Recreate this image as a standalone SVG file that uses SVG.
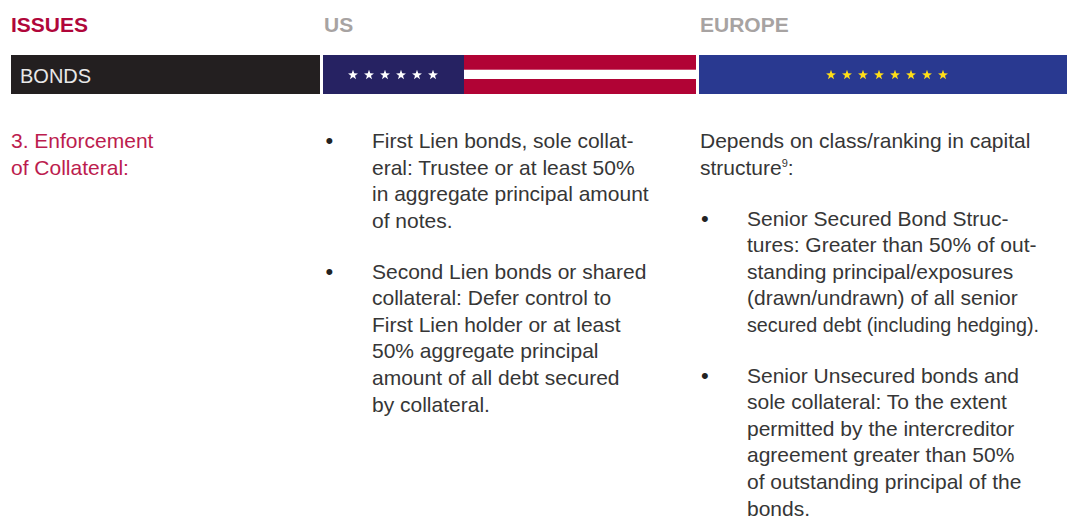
<svg xmlns="http://www.w3.org/2000/svg" xmlns:xlink="http://www.w3.org/1999/xlink" width="1067" height="531" viewBox="0 0 1067 531">
<style>
.hdr{font-family:"Liberation Sans",Arial,sans-serif;font-weight:bold;font-size:21px}
.body{font-family:"Liberation Sans",Arial,sans-serif;font-size:21px;fill:#363636}
.issue{font-family:"Liberation Sans",Arial,sans-serif;font-size:21px;fill:#BC1C4E}
.bul{font-family:"Liberation Sans",Arial,sans-serif;font-size:22px;fill:#222222}
</style>
<defs>
<path id="star" d="M0,-5.2 L1.234,-1.699 L4.945,-1.607 L1.997,0.649 L3.056,4.207 L0,2.1 L-3.056,4.207 L-1.997,0.649 L-4.945,-1.607 L-1.234,-1.699 Z"/>
</defs>
<rect width="1067" height="531" fill="#ffffff"/>

<g id="headers">
<text class="hdr" x="11" y="32" fill="#B0063A">ISSUES</text>
<text class="hdr" x="324" y="32" fill="#A7A3A2">US</text>
<text class="hdr" x="700" y="32" fill="#A7A3A2">EUROPE</text>
</g>

<g id="bonds-bar">
<rect x="11" y="55" width="309" height="39" fill="#231F20"/>
<text x="20" y="83" font-family="'Liberation Sans',Arial,sans-serif" font-size="20" fill="#E8E8E8">BONDS</text>
</g>

<g id="us-flag">
<rect x="323" y="55" width="141" height="39" fill="#262262"/>
<rect x="464" y="55" width="232" height="14.7" fill="#B10335"/>
<rect x="464" y="79" width="232" height="15" fill="#B10335"/>
<g fill="#ffffff">
<use xlink:href="#star" href="#star" x="353" y="75"/>
<use xlink:href="#star" href="#star" x="369" y="75"/>
<use xlink:href="#star" href="#star" x="385" y="75"/>
<use xlink:href="#star" href="#star" x="401" y="75"/>
<use xlink:href="#star" href="#star" x="417" y="75"/>
<use xlink:href="#star" href="#star" x="433" y="75"/>
</g>
</g>

<g id="eu-flag">
<rect x="699" y="55" width="368" height="39" fill="#293990"/>
<g fill="#FFDE17">
<use xlink:href="#star" href="#star" x="831" y="75"/>
<use xlink:href="#star" href="#star" x="847" y="75"/>
<use xlink:href="#star" href="#star" x="863" y="75"/>
<use xlink:href="#star" href="#star" x="879" y="75"/>
<use xlink:href="#star" href="#star" x="895" y="75"/>
<use xlink:href="#star" href="#star" x="911" y="75"/>
<use xlink:href="#star" href="#star" x="927" y="75"/>
<use xlink:href="#star" href="#star" x="943" y="75"/>
</g>
</g>

<g id="issue">
<text class="issue" x="11" y="148">3. Enforcement</text>
<text class="issue" x="11" y="174.6">of Collateral:</text>
</g>

<g id="us-text">
<text class="bul" x="325.5" y="148">•</text>
<text class="body" x="372" y="148">First Lien bonds, sole collat-</text>
<text class="body" x="372" y="174.6">eral: Trustee or at least 50%</text>
<text class="body" x="372" y="201.2">in aggregate principal amount</text>
<text class="body" x="372" y="227.8">of notes.</text>
<text class="bul" x="325.5" y="278.5">•</text>
<text class="body" x="372" y="278.5">Second Lien bonds or shared</text>
<text class="body" x="372" y="305.1">collateral: Defer control to</text>
<text class="body" x="372" y="331.7">First Lien holder or at least</text>
<text class="body" x="372" y="358.3">50% aggregate principal</text>
<text class="body" x="372" y="384.9">amount of all debt secured</text>
<text class="body" x="372" y="411.5">by collateral.</text>
</g>

<g id="eu-text">
<text class="body" x="700" y="148">Depends on class/ranking in capital</text>
<text class="body" x="700" y="174.6">structure<tspan font-size="11" dy="-8">9</tspan><tspan dy="8">:</tspan></text>
<text class="bul" x="701" y="225.5">•</text>
<text class="body" x="747" y="225.5">Senior Secured Bond Struc-</text>
<text class="body" x="747" y="252.1">tures: Greater than 50% of out-</text>
<text class="body" x="747" y="278.7">standing principal/exposures</text>
<text class="body" x="747" y="305.3">(drawn/undrawn) of all senior</text>
<text class="body" x="747" y="331.9" textLength="292" lengthAdjust="spacingAndGlyphs">secured debt (including hedging).</text>
<text class="bul" x="701" y="382.5">•</text>
<text class="body" x="747" y="382.5">Senior Unsecured bonds and</text>
<text class="body" x="747" y="409.1">sole collateral: To the extent</text>
<text class="body" x="747" y="435.7">permitted by the intercreditor</text>
<text class="body" x="747" y="462.3">agreement greater than 50%</text>
<text class="body" x="747" y="488.9">of outstanding principal of the</text>
<text class="body" x="747" y="515.5">bonds.</text>
</g>
</svg>
